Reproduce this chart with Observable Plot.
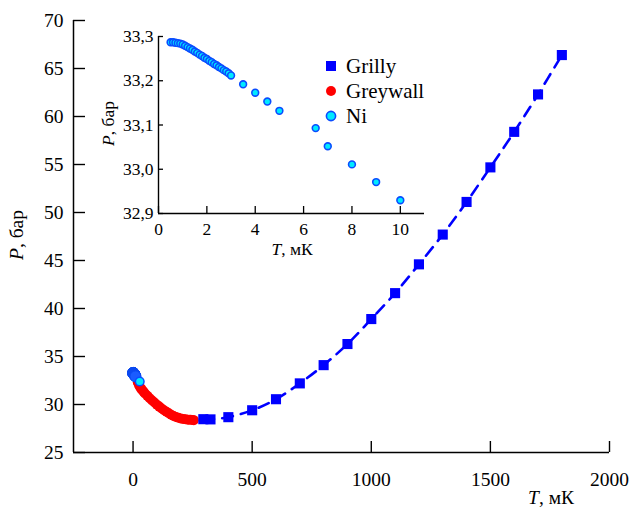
<!DOCTYPE html>
<html><head><meta charset="utf-8">
<script src="https://cdn.jsdelivr.net/npm/d3@7"></script>
<script src="https://cdn.jsdelivr.net/npm/@observablehq/plot@0.6"></script>
<style>
html,body{margin:0;padding:0;background:#fff;}
#wrap{position:relative;width:634px;height:509px;font-family:"Liberation Serif","Times New Roman",serif;}
#wrap > svg{position:absolute;left:0;top:0;overflow:visible;}
.leg{position:absolute;left:324px;font-size:21px;line-height:24px;color:#000;}
.leg div{display:flex;align-items:center;height:25px;}
.leg svg{margin-right:8px;}
</style></head><body><div id="wrap"></div>
<script>
// ---- data ----
const grillyT = [295, 325, 400, 500, 600, 700, 800, 900, 1000, 1100, 1200, 1300, 1400, 1500, 1600, 1700, 1800];
const grillyP = [28.47, 28.45, 28.68, 29.4, 30.55, 32.2, 34.1, 36.3, 38.9, 41.6, 44.6, 47.7, 51.1, 54.7, 58.4, 62.3, 66.4];

const greywallT = [20, 25, 30, 35, 40, 45, 50, 60, 70, 80, 90, 100, 110, 120, 130, 140, 150, 160, 170, 180, 190, 200, 210, 220, 230, 240, 250, 255];
const greywallP = [32.3, 32.0, 31.8, 31.6, 31.45, 31.3, 31.15, 30.9, 30.65, 30.42, 30.2, 29.98, 29.78, 29.58, 29.4, 29.24, 29.08, 28.94, 28.8, 28.7, 28.62, 28.55, 28.5, 28.46, 28.42, 28.4, 28.38, 28.37];

const niT = [0.5, 0.6, 0.7, 0.8, 0.9, 1.0, 1.1, 1.2, 1.3, 1.4, 1.5, 1.6, 1.7, 1.8, 1.9, 2.0, 2.1, 2.2, 2.3, 2.4, 2.5, 2.6, 2.7, 2.8, 2.9, 3.0, 3.5, 4.0, 4.5, 5.0, 6.5, 7.0, 8.0, 9.0, 10.0];
const niP = [33.287, 33.287, 33.286, 33.285, 33.284, 33.282, 33.279, 33.276, 33.273, 33.270, 33.266, 33.263, 33.259, 33.256, 33.252, 33.249, 33.245, 33.242, 33.238, 33.235, 33.231, 33.228, 33.224, 33.221, 33.217, 33.212, 33.192, 33.173, 33.153, 33.132, 33.093, 33.052, 33.011, 32.971, 32.930];
const niExtraT = [28];
const niExtraP = [32.4];

const mainXTicks = [0, 500, 1000, 1500, 2000];
const mainYTicks = [25, 30, 35, 40, 45, 50, 55, 60, 65, 70];
const insetXTicks = [0, 2, 4, 6, 8, 10];
const insetYTicks = [32.9, 33.0, 33.1, 33.2, 33.3];

const seriesNames = ["Grilly", "Greywall", "Ni"];

// ---- tables ----
const grilly = grillyT.map((t, i) => ({T: t, P: grillyP[i]}));
const greywall = greywallT.map((t, i) => ({T: t, P: greywallP[i]}));
const ni = niT.map((t, i) => ({T: t, P: niP[i]}));
const niExtra = niExtraT.map((t, i) => ({T: t, P: niExtraP[i]}));

const W = 634, H = 509;
const BLUE = "#0000ff", RED = "#ff0000", CYAN = "#00eaff", NISTROKE = "#0a4cff";
const font = '"Liberation Serif","Times New Roman",serif';

// ---- main plot ----
const mM = {l: 73, r: 25, t: 20, b: 57};
const mInnerW = W - mM.l - mM.r, mInnerH = H - mM.t - mM.b;
const main = Plot.plot({
  width: W, height: H,
  marginLeft: mM.l, marginRight: mM.r, marginTop: mM.t, marginBottom: mM.b,
  style: {fontFamily: font, fontSize: "19.5px", background: "transparent", color: "#000", overflow: "visible"},
  x: {domain: [-250, 2000]},
  y: {domain: [25, 70]},
  marks: [
    Plot.axisX({ticks: mainXTicks, tickSize: 0, tickPadding: 20, label: null, tickFormat: d => String(d)}),
    Plot.axisY({ticks: mainYTicks, tickSize: 0, tickPadding: 10, label: null, tickFormat: d => String(d)}),
    Plot.ruleX(mainXTicks, {x: d => d, insetTop: mInnerH - 11, stroke: "#000", strokeWidth: 1.4}),
    Plot.ruleY(mainYTicks, {y: d => d, insetRight: mInnerW - 12, stroke: "#000", strokeWidth: 1.4}),
    Plot.ruleX([-250], {stroke: "#000", strokeWidth: 1.5}),
    Plot.ruleY([25], {stroke: "#000", strokeWidth: 1.5}),
    Plot.dot(greywall, {x: "T", y: "P", r: 5, fill: RED}),
    Plot.line(grilly, {x: "T", y: "P", stroke: BLUE, strokeWidth: 2.6, strokeDasharray: "11,8", curve: "catmull-rom"}),
    Plot.dot(grilly, {x: "T", y: "P", symbol: "square", r: 5.7, fill: BLUE}),
    Plot.dot(ni, {x: "T", y: "P", r: 5.5, fill: "#1a5cff", stroke: "#0a48f0", strokeWidth: 1}),
    Plot.dot(niExtra, {x: "T", y: "P", r: 4.3, fill: CYAN, stroke: NISTROKE, strokeWidth: 1.5})
  ]
});

// ---- inset plot ----
const iM = {l: 158, r: 210, t: 36, b: 296};
const iInnerW = W - iM.l - iM.r, iInnerH = H - iM.t - iM.b;
const inset = Plot.plot({
  width: W, height: H,
  marginLeft: iM.l, marginRight: iM.r, marginTop: iM.t, marginBottom: iM.b,
  style: {fontFamily: font, fontSize: "17.5px", background: "transparent", color: "#000", overflow: "visible"},
  x: {domain: [0, 11]},
  y: {domain: [32.9, 33.3]},
  marks: [
    Plot.axisX({ticks: insetXTicks, tickSize: 0, tickPadding: 9, label: null, tickFormat: d => String(d)}),
    Plot.axisY({ticks: insetYTicks, tickSize: 0, tickPadding: 5, label: null, tickFormat: d => d.toFixed(1).replace(".", ",")}),
    Plot.ruleX(insetXTicks, {x: d => d, insetTop: iInnerH - 7, stroke: "#000", strokeWidth: 1.3}),
    Plot.ruleY(insetYTicks, {y: d => d, insetRight: iInnerW - 5, stroke: "#000", strokeWidth: 1.3}),
    Plot.ruleX([0], {stroke: "#000", strokeWidth: 1.4}),
    Plot.ruleY([32.9], {stroke: "#000", strokeWidth: 1.4}),
    Plot.dot(ni, {x: "T", y: "P", r: 3.4, fill: CYAN, stroke: NISTROKE, strokeWidth: 1.6})
  ]
});

const wrap = document.getElementById("wrap");
wrap.appendChild(main);
wrap.appendChild(inset);

// ---- axis titles ----
function addLabel(svg, x, y, rot, size, italic, rest, anchor) {
  const t = d3.select(svg).append("text")
    .attr("transform", `translate(${x},${y}) rotate(${rot})`)
    .attr("text-anchor", anchor)
    .style("font-family", font)
    .style("font-size", size)
    .attr("fill", "#000");
  t.append("tspan").style("font-style", "italic").text(italic);
  t.append("tspan").text(rest);
}
addLabel(main, 22.5, 235, -90, "19.5px", "P", ", бар", "middle");
addLabel(main, 551, 504, 0, "19.5px", "T", ", мК", "middle");
addLabel(inset, 114, 123.5, -90, "17.5px", "P", ", бар", "middle");
addLabel(inset, 292, 255, 0, "17.5px", "T", ", мК", "middle");

// ---- legend ----
const leg = document.createElement("div");
leg.className = "leg";
leg.style.top = "53px";
const swatches = [
  `<svg width="14" height="14"><rect x="2" y="2" width="10" height="10" fill="${BLUE}"/></svg>`,
  `<svg width="14" height="14"><circle cx="7" cy="7" r="5" fill="${RED}"/></svg>`,
  `<svg width="14" height="14"><circle cx="7" cy="7" r="4.6" fill="${CYAN}" stroke="${NISTROKE}" stroke-width="1.6"/></svg>`
];
seriesNames.forEach((name, i) => {
  const row = document.createElement("div");
  row.innerHTML = swatches[i] + `<span>${name}</span>`;
  leg.appendChild(row);
});
wrap.appendChild(leg);
</script>
</body></html>
